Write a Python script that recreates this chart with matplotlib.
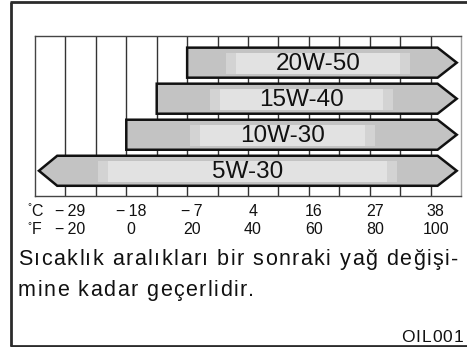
import matplotlib
matplotlib.use("Agg")
import matplotlib.pyplot as plt
from matplotlib.patches import Polygon, Rectangle
from matplotlib.lines import Line2D
from matplotlib.transforms import ScaledTranslation, blended_transform_factory
from matplotlib.font_manager import findfont, FontProperties
from matplotlib.ft2font import FT2Font

plt.rcParams['font.family'] = ['Liberation Sans', 'DejaVu Sans']

# Oil grades and the lowest ambient temperature (°F) each one covers
grades = ["20W-50", "15W-40", "10W-30", "5W-30"]
min_temp_f = [20, 10, 0, None]          # None: no lower limit (arrow to the left)

# Temperature scale
ticks_f = [-20, 0, 20, 40, 60, 80, 100]
ticks_c = [-29, -18, -7, 4, 16, 27, 38]

note_lines = ["Sıcaklık aralıkları bir sonraki yağ değişi-", "mine kadar geçerlidir."]
figure_code = "OIL001"

# Light band inside each bar (°F), purely decorative shading
light_band = [(36, 90), (30.8, 84.4), (24.2, 78.4), (-6, 85.7)]

W, H = 467, 347
DPI = 100
fig = plt.figure(figsize=(W / DPI, H / DPI), dpi=DPI)
INK = "#111111"


def fx(px):
    return px / W


def fy(py):
    return 1 - py / H


_face = FT2Font(findfont(FontProperties(family="Liberation Sans")))


def advances(s, size):
    _face.set_size(size, DPI)
    return [_face.load_char(ord(ch)).linearHoriAdvance / 65536 for ch in s]


def tracked_text(x, y, s, size, tracking=0.0, width=None, ha="left"):
    """Draw a string glyph by glyph with extra letter spacing (pixels)."""
    adv = advances(s, size)
    if width is not None:
        tracking = (width - sum(adv)) / (len(s) - 1)
    total = sum(adv) + tracking * (len(s) - 1)
    cx = x - total if ha == "right" else x
    for ch, a in zip(s, adv):
        if ch != " ":
            fig.text(fx(cx), fy(y), ch, fontsize=size, color=INK, va="baseline")
        cx += a + tracking
    return tracking


# outer frame (right edge runs off the page)
frame_kw = dict(color="#2b2b2b", lw=2.0, solid_capstyle="butt", transform=fig.transFigure)
fig.add_artist(Line2D([fx(11), fx(11)], [fy(1.5), fy(345.5)], **frame_kw))
fig.add_artist(Line2D([fx(10), fx(470)], [fy(1.5), fy(1.5)], **frame_kw))
fig.add_artist(Line2D([fx(10), fx(470)], [fy(345.5), fy(345.5)], **frame_kw))

ax = fig.add_axes([fx(35), fy(196), fx(461) - fx(35), (196 - 36) / H])
ax.set_xlim(-30, 110)
ax.set_ylim(3.70, -0.74)
ax.set_xticks([])
ax.set_yticks([])
for sp in ax.spines.values():
    sp.set_linewidth(1.0)
    sp.set_color("#444444")
ax.spines["right"].set_color("#a0a0a0")

# vertical grid every 10 °F
for x in range(-20, 110, 10):
    ax.axvline(x, color="#333333", lw=1.0, zorder=1)

DARK, MID, LIGHT = "#c3c3c3", "#d3d3d3", "#e2e2e2"
h = 30 / 36
body_end, tip_right = 102.3, 108.6
body_start_open, tip_left = -22.7, -28.7
mid_w = 3.3
inset_top, inset_bot = 5 / 36, 4 / 36

for i, (g, lo, band) in enumerate(zip(grades, min_temp_f, light_band)):
    top, bot = i - h / 2, i + h / 2
    if lo is None:
        pts = [(tip_left, i), (body_start_open, top), (body_end, top), (tip_right, i),
               (body_end, bot), (body_start_open, bot)]
    else:
        pts = [(lo, top), (body_end, top), (tip_right, i), (body_end, bot), (lo, bot)]
    ax.add_patch(Polygon(pts, closed=True, facecolor=DARK, edgecolor="none", zorder=2))
    a, b = band
    yt, hh = top + inset_top, h - inset_top - inset_bot
    ax.add_patch(Rectangle((a - mid_w, yt), (b - a) + 2 * mid_w, hh,
                           facecolor=MID, edgecolor="none", zorder=3))
    ax.add_patch(Rectangle((a, yt), b - a, hh, facecolor=LIGHT, edgecolor="none", zorder=4))
    ax.add_patch(Polygon(pts, closed=True, facecolor="none", edgecolor=INK,
                         lw=1.8, joinstyle="miter", zorder=5))
    ax.text((a + b) / 2, i + 0.03, g, ha="center", va="center", fontsize=17.5,
            color=INK, zorder=6)

# temperature scale labels under the grid (x in data, y in figure pixels)
shift = ScaledTranslation(0.05, 0, fig.dpi_scale_trans)
scale_tr = blended_transform_factory(ax.transData, fig.transFigure) + shift


def fmt(v):
    return f"\u2212\u2009{-v}" if v < 0 else f"{v}"


for f, c in zip(ticks_f, ticks_c):
    ax.text(f, fy(215.5), fmt(c), transform=scale_tr, ha="center", va="baseline",
            fontsize=11.5, color=INK, clip_on=False)
    ax.text(f, fy(234.5), fmt(f), transform=scale_tr, ha="center", va="baseline",
            fontsize=11.5, color=INK, clip_on=False)

fig.text(fx(27), fy(210), "°", fontsize=7, color=INK, va="baseline")
fig.text(fx(31.5), fy(215.5), "C", fontsize=11.5, color=INK, va="baseline")
fig.text(fx(27), fy(229), "°", fontsize=7, color=INK, va="baseline")
fig.text(fx(31.5), fy(234.5), "F", fontsize=11.5, color=INK, va="baseline")

# note below the chart, letter-spaced; first line justified to the full width
trk = tracked_text(18, 265.3, note_lines[0], 15.5, width=440)
tracked_text(18, 296, note_lines[1], 15.5, tracking=trk)
tracked_text(463, 341.7, figure_code, 12.5, width=62, ha="right")

fig.savefig("out.png", dpi=DPI)
